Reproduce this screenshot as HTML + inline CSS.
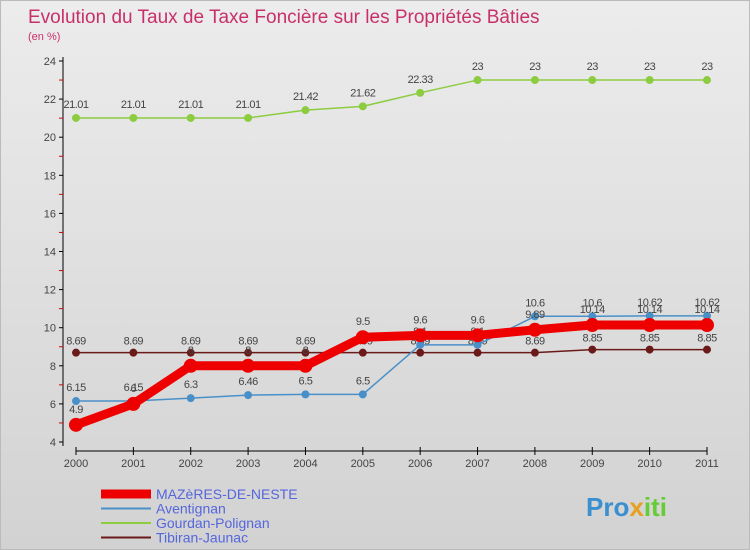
<!DOCTYPE html>
<html><head><meta charset="utf-8"><style>
body{margin:0}
#c{width:750px;height:550px;position:relative;background:linear-gradient(#ececec,#d2d2d2);font-family:"Liberation Sans",sans-serif;overflow:hidden;border:1px solid #bbb;box-sizing:border-box}
</style></head><body>
<div id="c">
<svg id="s" width="750" height="550">
<text x="27" y="22" font-size="19" fill="#c8306a">Evolution du Taux de Taxe Foncière sur les Propriétés Bâties</text>
<text x="27" y="39" font-size="11" fill="#c8306a">(en %)</text>
<text x="585" y="515" font-size="26" font-weight="bold" fill="#3a8fd0">Pro<tspan fill="#e8a020">x</tspan><tspan fill="#6c3">iti</tspan></text>
</svg>
</div>
<script>
const years=["2000","2001","2002","2003","2004","2005","2006","2007","2008","2009","2010","2011"];
const yTicks=[4,6,8,10,12,14,16,18,20,22,24];
const mazeres=[4.9,6,8,8,8,9.5,9.6,9.6,9.89,10.14,10.14,10.14];
const aventignan=[6.15,6.15,6.3,6.46,6.5,6.5,9.1,9.1,10.6,10.6,10.62,10.62];
const gourdan=[21.01,21.01,21.01,21.01,21.42,21.62,22.33,23,23,23,23,23];
const tibiran=[8.69,8.69,8.69,8.69,8.69,8.69,8.69,8.69,8.69,8.85,8.85,8.85];
const s=document.getElementById('s');const NS="http://www.w3.org/2000/svg";
const X=i=>75+i*(706-75)/(years.length-1);
const Y=v=>441-(v-4)*(441-60)/20;
function el(t,a,p){const e=document.createElementNS(NS,t);for(const k in a)e.setAttribute(k,a[k]);(p||s).appendChild(e);return e;}
let ax=el('line',{x1:62,y1:56,x2:62,y2:445,stroke:'#000'});


let bx=el('line',{x1:75,y1:450,x2:706,y2:450,stroke:'#000'});


for(let v=4;v<=24;v++){el('line',{x1:58,x2:62,y1:Y(v),y2:Y(v),stroke:v%2?'#d00':'#000'});}
yTicks.forEach(v=>{const t=el('text',{x:55,y:Y(v)+4,'font-size':11,fill:'#444','text-anchor':'end'});t.textContent=v;

});
years.forEach((y,i)=>{el('line',{x1:X(i),x2:X(i),y1:446,y2:454,stroke:'#000'});const t=el('text',{x:X(i),y:466,'font-size':11,fill:'#444','text-anchor':'middle'});t.textContent=y;

});
function series(d,col,w,r,name,lblOff){
 const g=el('g',{});
 
 
 el('polyline',{points:d.map((v,i)=>X(i)+','+Y(v)).join(' '),fill:'none',stroke:col,'stroke-width':w,'stroke-linejoin':'round'},g);
 d.forEach((v,i)=>{const c=el('circle',{cx:X(i),cy:Y(v),r:r,fill:col},g);
 
 
 const t=el('text',{x:X(i),y:Y(v)+lblOff,'font-size':11,fill:'#444','text-anchor':'middle','letter-spacing':'-0.5'},g);t.textContent=v;});
}
series(tibiran,'#6b1a1a',1.5,4,'tibiran-series',-8);
series(aventignan,'#4a90c8',1.5,4,'aventignan-series',-10);
series(gourdan,'#8ccc40',1.5,4,'gourdan-series',-10);
series(mazeres,'#ee0000',9,7,'mazeres-series',-12);
const leg=[["MAZèRES-DE-NESTE",'#ee0000',9],["Aventignan",'#4a90c8',2],["Gourdan-Polignan",'#8ccc40',2],["Tibiran-Jaunac",'#6b1a1a',2]];
leg.forEach((l,i)=>{const y=493+i*14.5;el('line',{x1:100,x2:150,y1:y,y2:y,stroke:l[1],'stroke-width':l[2]});
const t=el('text',{x:155,y:y+5,'font-size':14,fill:'#5566dd'});t.textContent=l[0];

});
</script>
</body></html>
